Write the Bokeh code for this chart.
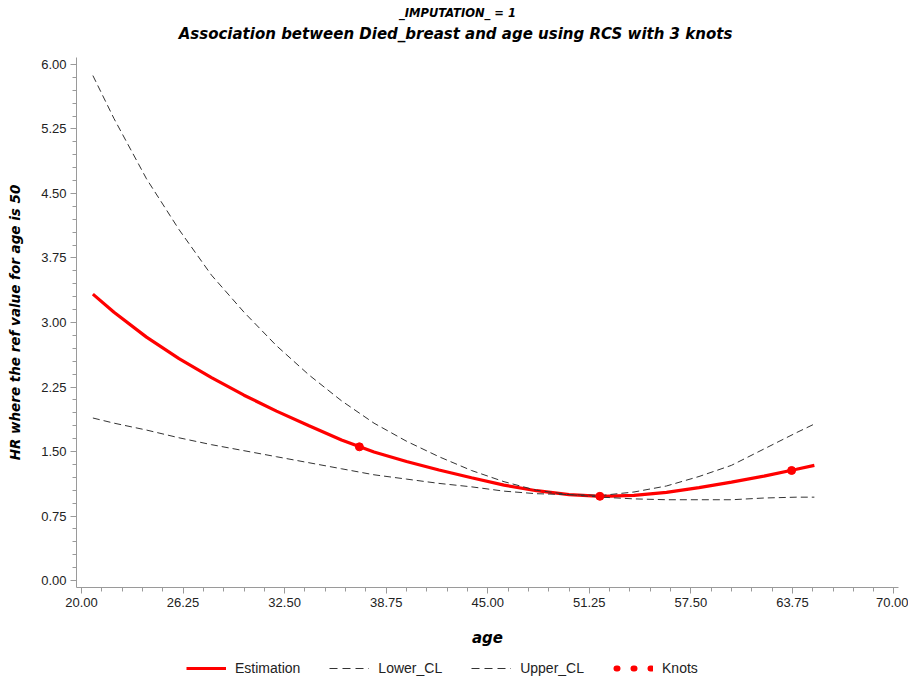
from bokeh.plotting import figure
from bokeh.layouts import column
from bokeh.models import (ColumnDataSource, Legend, LegendItem, FixedTicker,
                          NumeralTickFormatter, Range1d, Label)
from bokeh.embed import file_html
from bokeh.resources import INLINE

# ---- data ----
age = [20.7, 22, 24, 26, 28, 30, 32, 34, 36, 38, 40, 42, 44, 46, 48, 50,
       52, 54, 56, 58, 60, 62, 64, 65.1]
estimate = [3.33, 3.12, 2.83, 2.58, 2.36, 2.155, 1.97, 1.80, 1.635, 1.495,
            1.385, 1.285, 1.195, 1.11, 1.045, 1.00, 0.98, 0.99, 1.025, 1.08,
            1.145, 1.215, 1.295, 1.34]
lower_cl = [1.89, 1.83, 1.75, 1.66, 1.58, 1.51, 1.44, 1.37, 1.30, 1.23, 1.18,
            1.13, 1.09, 1.04, 1.01, 1.00, 0.97, 0.95, 0.94, 0.94, 0.94, 0.96,
            0.97, 0.97]
upper_cl = [5.87, 5.37, 4.67, 4.08, 3.55, 3.12, 2.73, 2.39, 2.09, 1.83, 1.62,
            1.44, 1.28, 1.15, 1.05, 1.00, 0.99, 1.03, 1.10, 1.21, 1.34, 1.53,
            1.72, 1.82]
knot_age = [37.1, 51.9, 63.7]
knot_hr = [1.555, 0.98, 1.28]

x_ticks = [20.0, 26.25, 32.5, 38.75, 45.0, 51.25, 57.5, 63.75, 70.0]
y_ticks = [0.0, 0.75, 1.5, 2.25, 3.0, 3.75, 4.5, 5.25, 6.0]

title_main = "Association between Died_breast and age using RCS with 3 knots"
title_by = "_IMPUTATION_ = 1"
x_label = "age"
y_label = "HR where the ref value for age is 50"
legend_labels = ["Estimation", "Lower_CL", "Upper_CL", "Knots"]

FONT = "Liberation Sans"
TFONT = "DejaVu Sans"
AXIS_GRAY = "#9a9a9a"
RED = "#ff0000"
DASH_COLOR = "#333333"
W = 908


def strip(height):
    f = figure(width=W, height=height, output_backend="svg",
               toolbar_location=None, x_range=Range1d(0, 1),
               y_range=Range1d(0, 1), x_axis_location=None,
               y_axis_location=None, min_border_left=0, min_border_right=0,
               min_border_top=0, min_border_bottom=0)
    f.outline_line_color = None
    f.grid.visible = False
    return f


# ---- title strip (its frame is aligned with the chart frame, 76px in) ----
hd = strip(57)
hd.add_layout(Label(x=381, y=45, x_units="screen", y_units="screen",
                    text=title_by, text_align="center", text_baseline="middle",
                    text_font=TFONT, text_font_style="bold italic",
                    text_font_size="11.5px", text_color="#000000"))
hd.add_layout(Label(x=379, y=24, x_units="screen", y_units="screen",
                    text=title_main, text_align="center",
                    text_baseline="middle", text_font=TFONT,
                    text_font_style="bold italic", text_font_size="15px",
                    text_color="#000000"))

# ---- main chart ----
src = ColumnDataSource(dict(age=age, est=estimate, lo=lower_cl, up=upper_cl))
knots = ColumnDataSource(dict(age=knot_age, hr=knot_hr))

p = figure(width=W, height=597, frame_width=822, frame_height=530,
           output_backend="svg", toolbar_location=None,
           x_range=Range1d(19.692, 70.277), y_range=Range1d(-0.08, 6.08),
           min_border_left=76, min_border_right=10, min_border_top=0,
           min_border_bottom=67)
p.outline_line_color = None
p.xgrid.visible = False
p.ygrid.visible = False

minor_x = [20 + 1.25 * i for i in range(41)]
minor_y = [0.15 * i for i in range(41)]
p.xaxis.ticker = FixedTicker(ticks=x_ticks, minor_ticks=minor_x)
p.yaxis.ticker = FixedTicker(ticks=y_ticks, minor_ticks=minor_y)
p.xaxis.formatter = NumeralTickFormatter(format="0.00")
p.yaxis.formatter = NumeralTickFormatter(format="0.00")

for ax in (p.xaxis, p.yaxis):
    ax.axis_line_color = AXIS_GRAY
    ax.major_tick_line_color = AXIS_GRAY
    ax.minor_tick_line_color = AXIS_GRAY
    ax.major_tick_out = 6
    ax.major_tick_in = 0
    ax.minor_tick_out = 4
    ax.minor_tick_in = 0
    ax.major_label_text_font = FONT
    ax.major_label_text_font_size = "13px"
    ax.major_label_text_color = "#222222"
    ax.axis_label_text_font = TFONT
    ax.axis_label_text_font_style = "bold italic"
    ax.axis_label_text_color = "#000000"

p.xaxis.axis_label = x_label
p.xaxis.axis_label_text_font_size = "15px"
p.xaxis.axis_label_standoff = 19
p.xaxis.major_label_standoff = 4
p.yaxis.axis_label = y_label
p.yaxis.axis_label_text_font_size = "13.5px"
p.yaxis.axis_label_standoff = 15
p.yaxis.major_label_standoff = 4

p.line("age", "est", source=src, line_color=RED, line_width=3.2)
p.line("age", "lo", source=src, line_color=DASH_COLOR, line_width=1,
       line_dash="7 4")
p.line("age", "up", source=src, line_color=DASH_COLOR, line_width=1,
       line_dash="7 4")
p.scatter("age", "hr", source=knots, size=8, color=RED)

# ---- legend strip under the chart (its glyphs sit outside its view) ----
lg = strip(26)
g_est = lg.line("age", "est", source=src, line_color=RED, line_width=3.2)
g_lo = lg.line("age", "lo", source=src, line_color=DASH_COLOR, line_width=1,
               line_dash="8 5")
g_up = lg.line("age", "up", source=src, line_color=DASH_COLOR, line_width=1,
               line_dash="8 5")
g_kn = lg.line("age", "hr", source=knots, line_color=RED, line_width=6,
               line_dash="1 16", line_dash_offset=-3, line_cap="round")

legend = Legend(items=[LegendItem(label=lab, renderers=[r]) for lab, r in
                       zip(legend_labels, [g_est, g_lo, g_up, g_kn])],
                orientation="horizontal", location=(110, 4),
                glyph_width=40, glyph_height=14, spacing=29, padding=0,
                margin=0, label_standoff=9,
                label_text_font=FONT, label_text_font_size="14px",
                label_text_color="#222222",
                border_line_alpha=0, background_fill_alpha=0)
lg.add_layout(legend, "center")

page = column(hd, p, lg, spacing=0)
open("out.html", "w").write(file_html(page, INLINE))
